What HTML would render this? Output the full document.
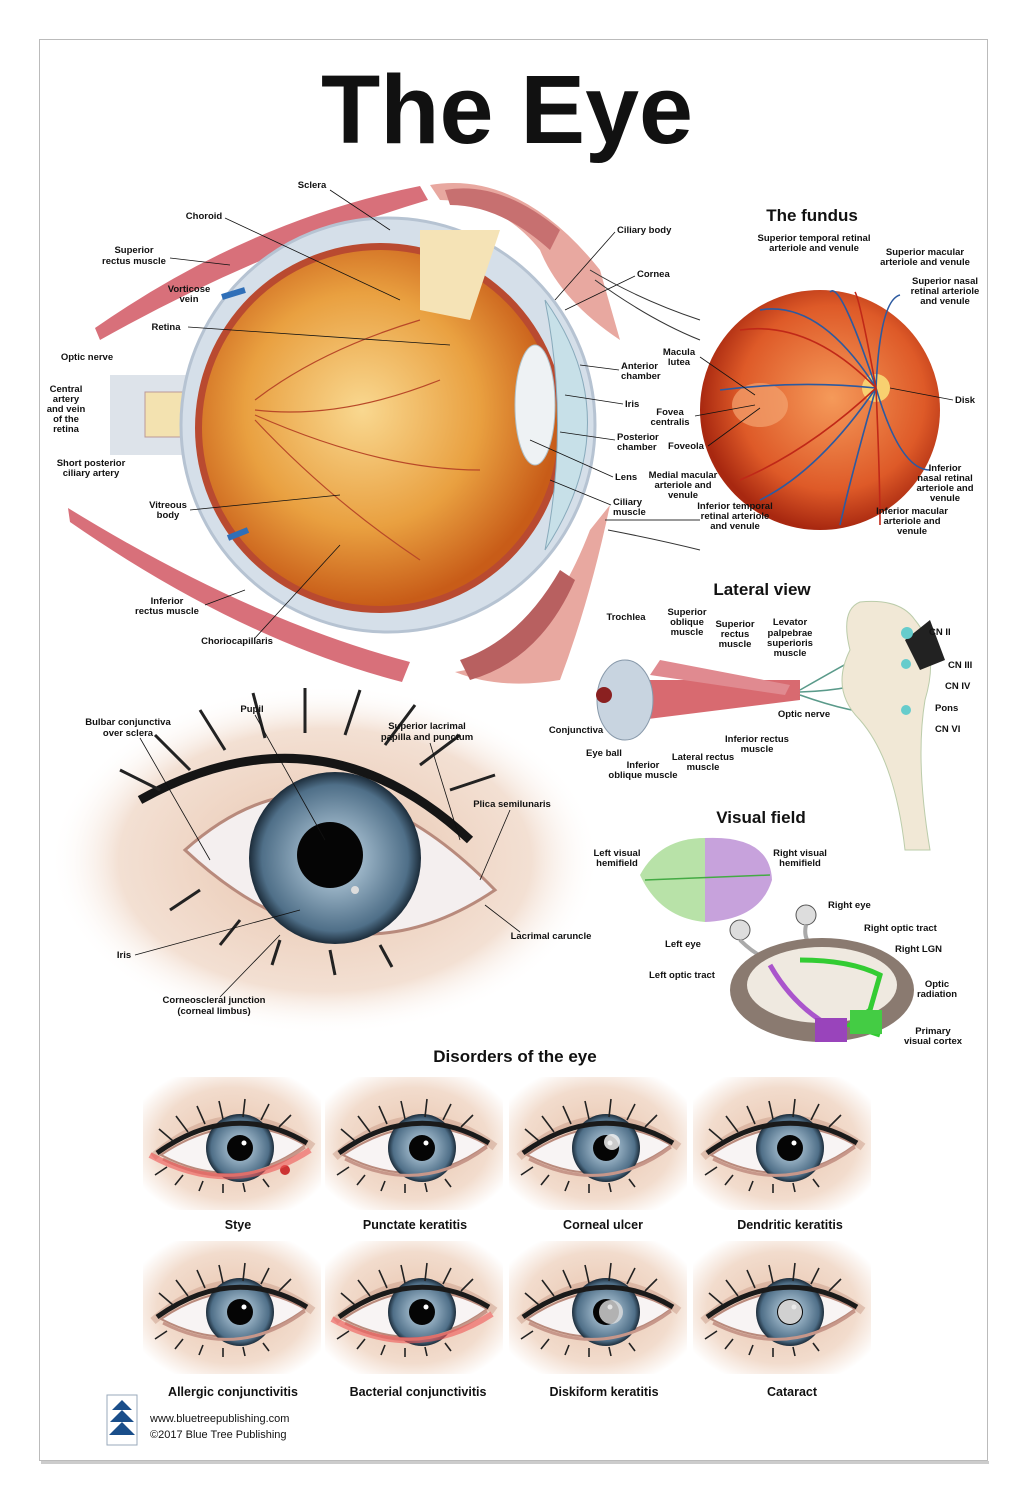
<!DOCTYPE html>
<html><head><meta charset="utf-8"><style>
html,body{margin:0;padding:0;background:#fff}
svg{display:block}
text{font-family:"Liberation Sans",sans-serif;font-weight:bold;font-size:9.5px;fill:#111}
.c{text-anchor:middle}
.h{font-size:17px}
.t{font-size:12.5px}
.f{font-weight:normal;font-size:11px}
line,polyline{stroke:#111;stroke-width:0.8;fill:none}
</style></head><body>
<svg width="1027" height="1500" viewBox="0 0 1027 1500" xmlns="http://www.w3.org/2000/svg">
<defs>
<radialGradient id="skin" cx="50%" cy="50%" r="60%"><stop offset="0" stop-color="#e8c4ad"/><stop offset="0.7" stop-color="#f2dccd"/><stop offset="1" stop-color="#fff"/></radialGradient>
<radialGradient id="skin2" cx="50%" cy="50%" r="50%"><stop offset="0" stop-color="#e8c4ad"/><stop offset="0.75" stop-color="#f3e0d3"/><stop offset="1" stop-color="#fff" stop-opacity="0"/></radialGradient>
<radialGradient id="iris" cx="50%" cy="50%" r="50%"><stop offset="0.3" stop-color="#9db6c8"/><stop offset="0.85" stop-color="#4f6f88"/><stop offset="1" stop-color="#1c2c3a"/></radialGradient>
<radialGradient id="vit" cx="45%" cy="45%" r="55%"><stop offset="0" stop-color="#f9d890"/><stop offset="0.6" stop-color="#e9a040"/><stop offset="1" stop-color="#c85c18"/></radialGradient>
<radialGradient id="fun" cx="55%" cy="45%" r="55%"><stop offset="0" stop-color="#f59a5a"/><stop offset="0.7" stop-color="#de5a28"/><stop offset="1" stop-color="#a82810"/></radialGradient>
<g id="tile">
<rect width="178" height="133" fill="url(#skin)"/>
<path d="M10,80 Q90,10 170,70" stroke="#c99c88" stroke-width="8" fill="none" opacity=".5"/>
<path d="M18,78 Q92,28 162,68 Q95,118 18,78Z" fill="#f8f4f4" stroke="#b98a7c" stroke-width="2"/>
<circle cx="97" cy="71" r="34" fill="url(#iris)"/>
<circle cx="97" cy="71" r="13" fill="#050505"/>
<circle cx="101" cy="66" r="2.5" fill="#fff"/>
<path d="M14,76 Q90,22 164,66" stroke="#1a1a1a" stroke-width="5" fill="none"/>
<path d="M30,64 l-14,-12 M45,55 l-12,-16 M62,47 l-8,-18 M80,42 l-4,-18 M100,40 l2,-18 M118,43 l8,-16 M136,50 l12,-12 M24,90 l-12,8 M40,98 l-8,10 M60,104 l-4,10 M80,107 l0,9 M100,106 l2,9 M120,102 l6,8" stroke="#222" stroke-width="1.6"/>
<path d="M20,82 Q95,120 162,70" stroke="#c7978a" stroke-width="3" fill="none"/>
</g>
</defs>
<rect x="39.5" y="39.5" width="948" height="1421" fill="#fff" stroke="#bbb"/>
<rect x="41" y="1461" width="948" height="3" fill="#ccc"/>
<text x="507" y="143" class="c" style="font-size:97px;font-weight:bold">The Eye</text>

<!-- front eye (behind) -->
<ellipse cx="325" cy="860" rx="275" ry="175" fill="url(#skin2)"/>

<!-- main cross section -->
<path d="M95,328 Q250,220 420,186 L428,200 Q260,250 100,340Z" fill="#d8707a"/>
<path d="M68,508 Q250,620 410,662 L402,682 Q240,640 70,522Z" fill="#d8707a"/>
<rect x="110" y="375" width="130" height="80" fill="#dde3ea"/>
<rect x="145" y="392" width="95" height="45" fill="#f3e2b0" stroke="#b99" />
<circle cx="388" cy="425" r="207" fill="#d5dfe9" stroke="#b6c3d2" stroke-width="3"/>
<circle cx="380" cy="428" r="185" fill="#b94a30"/>
<circle cx="380" cy="428" r="178" fill="url(#vit)"/>
<path d="M420,230 L500,230 L470,320 L420,310Z" fill="#f5e3b6"/>
<path d="M255,400 Q320,350 420,320 M255,410 Q340,420 440,380 M255,420 Q330,500 420,560 M255,415 Q380,470 480,470" stroke="#b84828" stroke-width="1.2" fill="none"/>
<path d="M545,300 Q630,420 545,550 Q570,425 545,300Z" fill="#c7e0e8" stroke="#88aabb"/>
<ellipse cx="535" cy="405" rx="20" ry="60" fill="#eef2f4" stroke="#b0c0c8"/>
<path d="M430,185 Q520,170 600,270 L620,340 Q560,300 540,250 Q500,200 440,200Z" fill="#e8a8a0"/>
<path d="M445,190 Q500,180 560,230 L550,250 Q500,205 450,205Z" fill="#c77070"/>
<path d="M455,672 Q540,660 590,530 L610,505 Q590,600 560,680 Q500,690 455,672Z" fill="#e8a8a0"/>
<path d="M460,660 Q520,640 560,570 L575,580 Q540,660 470,680Z" fill="#b86060"/>
<path d="M590,270 Q640,300 700,320 M595,280 Q650,320 700,340 M605,520 Q650,520 700,520 M608,530 Q660,540 700,550" stroke="#333" stroke-width="1" fill="none"/>
<path d="M222,297 L245,290" stroke="#2f6fb8" stroke-width="6"/>
<path d="M228,538 L248,530" stroke="#2f6fb8" stroke-width="6"/>
<text x="312" y="188" class="c">Sclera</text>
<text x="204" y="219" class="c">Choroid</text>
<text x="134" y="253" class="c">Superior</text><text x="134" y="264" class="c">rectus muscle</text>
<text x="189" y="292" class="c">Vorticose</text><text x="189" y="302" class="c">vein</text>
<text x="166" y="330" class="c">Retina</text>
<text x="87" y="360" class="c">Optic nerve</text>
<text x="66" y="392" class="c">Central</text><text x="66" y="402" class="c">artery</text><text x="66" y="412" class="c">and vein</text><text x="66" y="422" class="c">of the</text><text x="66" y="432" class="c">retina</text>
<text x="91" y="466" class="c">Short posterior</text><text x="91" y="476" class="c">ciliary artery</text>
<text x="168" y="508" class="c">Vitreous</text><text x="168" y="518" class="c">body</text>
<text x="167" y="604" class="c">Inferior</text><text x="167" y="614" class="c">rectus muscle</text>
<text x="237" y="644" class="c">Choriocapillaris</text>
<text x="617" y="233">Ciliary body</text>
<text x="637" y="277">Cornea</text>
<text x="621" y="369">Anterior</text><text x="621" y="379">chamber</text>
<text x="625" y="407">Iris</text>
<text x="617" y="440">Posterior</text><text x="617" y="450">chamber</text>
<text x="615" y="480">Lens</text>
<text x="613" y="505">Ciliary</text><text x="613" y="515">muscle</text>
<line x1="330" y1="190" x2="390" y2="230"/><line x1="225" y1="218" x2="400" y2="300"/><line x1="170" y1="258" x2="230" y2="265"/>
<line x1="188" y1="327" x2="450" y2="345"/><line x1="190" y1="510" x2="340" y2="495"/><line x1="205" y1="605" x2="245" y2="590"/>
<line x1="255" y1="638" x2="340" y2="545"/><line x1="615" y1="232" x2="555" y2="300"/><line x1="635" y1="276" x2="565" y2="310"/>
<line x1="619" y1="370" x2="580" y2="365"/><line x1="623" y1="404" x2="565" y2="395"/><line x1="615" y1="440" x2="560" y2="432"/><line x1="613" y1="477" x2="530" y2="440"/><line x1="611" y1="505" x2="550" y2="480"/>

<!-- fundus -->
<text x="812" y="221" class="c h">The fundus</text>
<circle cx="820" cy="410" r="120" fill="url(#fun)"/>
<circle cx="876" cy="388" r="14" fill="#f8d070"/>
<ellipse cx="760" cy="405" rx="28" ry="22" fill="#f4a470" opacity=".7"/>
<path d="M876,388 Q820,300 760,310 M876,388 Q840,280 830,292 M876,388 Q880,300 900,295 M876,388 Q820,470 760,500 M876,388 Q850,480 840,525 M876,388 Q900,470 930,470 M876,388 Q800,380 720,390" stroke="#2c5aa0" stroke-width="1.6" fill="none"/>
<path d="M876,388 Q810,320 740,330 M876,388 Q860,300 855,292 M876,388 Q810,450 740,480 M876,388 Q880,480 880,525" stroke="#c02818" stroke-width="1.6" fill="none"/>
<text x="814" y="241" class="c">Superior temporal retinal</text><text x="814" y="251" class="c">arteriole and venule</text>
<text x="925" y="255" class="c">Superior macular</text><text x="925" y="265" class="c">arteriole and venule</text>
<text x="945" y="284" class="c">Superior nasal</text><text x="945" y="294" class="c">retinal arteriole</text><text x="945" y="304" class="c">and venule</text>
<text x="679" y="355" class="c">Macula</text><text x="679" y="365" class="c">lutea</text>
<text x="670" y="415" class="c">Fovea</text><text x="670" y="425" class="c">centralis</text>
<text x="686" y="449" class="c">Foveola</text>
<text x="955" y="403">Disk</text>
<text x="683" y="478" class="c">Medial macular</text><text x="683" y="488" class="c">arteriole and</text><text x="683" y="498" class="c">venule</text>
<text x="735" y="509" class="c">Inferior temporal</text><text x="735" y="519" class="c">retinal arteriole</text><text x="735" y="529" class="c">and venule</text>
<text x="945" y="471" class="c">Inferior</text><text x="945" y="481" class="c">nasal retinal</text><text x="945" y="491" class="c">arteriole and</text><text x="945" y="501" class="c">venule</text>
<text x="912" y="514" class="c">Inferior macular</text><text x="912" y="524" class="c">arteriole and</text><text x="912" y="534" class="c">venule</text>
<line x1="953" y1="400" x2="890" y2="388"/><line x1="700" y1="357" x2="755" y2="395"/><line x1="695" y1="416" x2="755" y2="405"/><line x1="708" y1="446" x2="760" y2="408"/>

<!-- lateral view -->
<text x="762" y="595" class="c h">Lateral view</text>
<path d="M640,680 L800,680 L800,700 L640,720Z" fill="#d86a70"/>
<path d="M660,660 L790,685 L785,695 L650,675Z" fill="#e08a90"/>
<ellipse cx="625" cy="700" rx="28" ry="40" fill="#c8d4e0" stroke="#8899aa"/>
<circle cx="604" cy="695" r="8" fill="#8a2020"/>
<path d="M800,690 Q870,650 905,632 M800,692 Q870,690 905,665 M800,695 Q870,720 905,712" stroke="#5a9a8a" stroke-width="1.5" fill="none"/>
<path d="M860,602 Q900,598 915,620 Q940,650 925,700 Q915,760 930,850 L905,850 Q895,760 860,720 Q830,690 850,650 Q840,610 860,602Z" fill="#f1e8d6" stroke="#bca"/>
<path d="M905,640 L930,620 L945,660 L920,670Z" fill="#222"/>
<circle cx="907" cy="633" r="6" fill="#6cc"/><circle cx="906" cy="664" r="5" fill="#6cc"/><circle cx="906" cy="710" r="5" fill="#6cc"/>
<text x="626" y="620" class="c">Trochlea</text>
<text x="687" y="615" class="c">Superior</text><text x="687" y="625" class="c">oblique</text><text x="687" y="635" class="c">muscle</text>
<text x="735" y="627" class="c">Superior</text><text x="735" y="637" class="c">rectus</text><text x="735" y="647" class="c">muscle</text>
<text x="790" y="625" class="c">Levator</text><text x="790" y="636" class="c">palpebrae</text><text x="790" y="646" class="c">superioris</text><text x="790" y="656" class="c">muscle</text>
<text x="929" y="635">CN II</text><text x="948" y="668">CN III</text><text x="945" y="689">CN IV</text><text x="935" y="711">Pons</text><text x="935" y="732">CN VI</text>
<text x="804" y="717" class="c">Optic nerve</text>
<text x="576" y="733" class="c">Conjunctiva</text>
<text x="604" y="756" class="c">Eye ball</text>
<text x="643" y="768" class="c">Inferior</text><text x="643" y="778" class="c">oblique muscle</text>
<text x="703" y="760" class="c">Lateral rectus</text><text x="703" y="770" class="c">muscle</text>
<text x="757" y="742" class="c">Inferior rectus</text><text x="757" y="752" class="c">muscle</text>

<!-- visual field -->
<text x="761" y="823" class="c h">Visual field</text>
<path d="M705,838 Q660,838 640,875 Q660,918 705,922Z" fill="#b8e2a8"/>
<path d="M705,838 Q770,835 772,880 Q760,920 705,922Z" fill="#c7a2dc"/>
<line x1="645" y1="880" x2="770" y2="875" style="stroke:#4a4;stroke-width:1.5"/>
<circle cx="740" cy="930" r="10" fill="#ddd" stroke="#555"/><circle cx="806" cy="915" r="10" fill="#ddd" stroke="#555"/>
<path d="M740,940 Q770,970 800,960 M806,925 Q800,950 840,960" stroke="#aaa" stroke-width="4" fill="none"/>
<ellipse cx="822" cy="990" rx="92" ry="52" fill="#8a7a70"/>
<ellipse cx="822" cy="985" rx="75" ry="38" fill="#efe9e0"/>
<path d="M800,960 Q850,960 880,975 L870,1010 L850,1025 L880,1035" stroke="#3c3" stroke-width="5" fill="none"/>
<path d="M770,965 Q790,1000 820,1020 L830,1040" stroke="#a5c" stroke-width="5" fill="none"/>
<rect x="850" y="1010" width="32" height="24" fill="#4c4"/><rect x="815" y="1018" width="32" height="24" fill="#94b"/>
<text x="617" y="856" class="c">Left visual</text><text x="617" y="866" class="c">hemifield</text>
<text x="800" y="856" class="c">Right visual</text><text x="800" y="866" class="c">hemifield</text>
<text x="828" y="908">Right eye</text><text x="864" y="931">Right optic tract</text><text x="895" y="952">Right LGN</text>
<text x="683" y="947" class="c">Left eye</text><text x="682" y="978" class="c">Left optic tract</text>
<text x="937" y="987" class="c">Optic</text><text x="937" y="997" class="c">radiation</text>
<text x="933" y="1034" class="c">Primary</text><text x="933" y="1044" class="c">visual cortex</text>

<!-- front eye -->
<path d="M185,850 Q330,720 495,890 Q340,995 185,850Z" fill="#f4efef" stroke="#b88a7c" stroke-width="3"/>
<circle cx="335" cy="858" r="86" fill="url(#iris)"/>
<circle cx="330" cy="855" r="33" fill="#050505"/>
<circle cx="355" cy="890" r="4" fill="#ddd"/>
<path d="M140,800 Q320,700 470,840" stroke="#151515" stroke-width="9" fill="none"/>
<path d="M160,790 l-40,-20 M190,770 l-35,-35 M225,750 l-25,-40 M265,738 l-12,-45 M305,733 l0,-45 M345,735 l15,-45 M385,745 l30,-40 M420,765 l40,-30 M450,790 l45,-15 M200,890 l-30,20 M240,920 l-20,25 M280,940 l-8,25 M330,950 l5,25 M380,945 l12,22" stroke="#222" stroke-width="3"/>
<text x="128" y="725" class="c">Bulbar conjunctiva</text><text x="128" y="736" class="c">over sclera</text>
<text x="252" y="712" class="c">Pupil</text>
<text x="427" y="729" class="c">Superior lacrimal</text><text x="427" y="740" class="c">papilla and punctum</text>
<text x="512" y="807" class="c">Plica semilunaris</text>
<text x="551" y="939" class="c">Lacrimal caruncle</text>
<text x="124" y="958" class="c">Iris</text>
<text x="214" y="1003" class="c">Corneoscleral junction</text><text x="214" y="1014" class="c">(corneal limbus)</text>
<line x1="255" y1="715" x2="325" y2="840"/><line x1="140" y1="738" x2="210" y2="860"/><line x1="430" y1="743" x2="460" y2="840"/><line x1="510" y1="810" x2="480" y2="880"/><line x1="520" y1="932" x2="485" y2="905"/><line x1="135" y1="955" x2="300" y2="910"/><line x1="220" y1="997" x2="280" y2="935"/>

<!-- disorders -->
<text x="515" y="1062" class="c h">Disorders of the eye</text>
<use href="#tile" x="143" y="1077"/><use href="#tile" x="325" y="1077"/><use href="#tile" x="509" y="1077"/><use href="#tile" x="693" y="1077"/>
<use href="#tile" x="143" y="1241"/><use href="#tile" x="325" y="1241"/><use href="#tile" x="509" y="1241"/><use href="#tile" x="693" y="1241"/>
<circle cx="285" cy="1170" r="5" fill="#c33"/>
<circle cx="612" cy="1142" r="8" fill="#eee" opacity=".85"/>
<path d="M150,1155 Q233,1200 310,1150" stroke="#e55" stroke-width="6" fill="none" opacity=".6"/>
<path d="M332,1319 Q415,1364 492,1314" stroke="#e55" stroke-width="6" fill="none" opacity=".6"/>
<circle cx="611" cy="1312" r="12" fill="#ddd" opacity=".8"/>
<circle cx="790" cy="1312" r="12" fill="#e8e8e8" opacity=".9"/>
<text x="238" y="1229" class="c t">Stye</text><text x="415" y="1229" class="c t">Punctate keratitis</text><text x="603" y="1229" class="c t">Corneal ulcer</text><text x="790" y="1229" class="c t">Dendritic keratitis</text>
<text x="233" y="1396" class="c t">Allergic conjunctivitis</text><text x="418" y="1396" class="c t">Bacterial conjunctivitis</text><text x="604" y="1396" class="c t">Diskiform keratitis</text><text x="792" y="1396" class="c t">Cataract</text>

<rect x="107" y="1395" width="30" height="50" fill="#fff" stroke="#9ab"/>
<path d="M122,1400 l-10,10 h20Z M122,1410 l-12,12 h24Z M122,1422 l-13,13 h26Z" fill="#1a4e8a"/>
<text x="150" y="1422" class="f">www.bluetreepublishing.com</text>
<text x="150" y="1438" class="f">©2017 Blue Tree Publishing</text>
</svg>
</body></html>
